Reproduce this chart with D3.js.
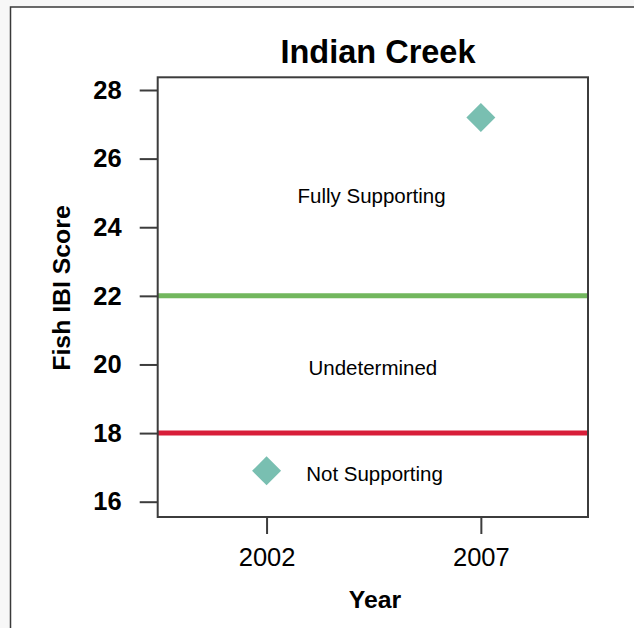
<!DOCTYPE html>
<html>
<head>
<meta charset="utf-8">
<script src="https://cdn.jsdelivr.net/npm/d3@7"></script>
<style>
  html, body { margin: 0; padding: 0; background: #f7f7f7; }
  svg { display: block; }
  text { font-family: "Liberation Sans", Arial, Helvetica, sans-serif; fill: #000; }
</style>
</head>
<body>
<div id="chart"></div>
<script>
// ---- data ----
const title = "Indian Creek";
const xLabel = "Year";
const yLabel = "Fish IBI Score";
const years = [2002, 2007];
const scores = [16.9, 27.2];
const xTicks = [2002, 2007];
const yTicks = [16, 18, 20, 22, 24, 26, 28];
const thresholds = [22, 18];
const thresholdColors = ["#72b75e", "#d81e39"];
const zoneLabels = ["Fully Supporting", "Undetermined", "Not Supporting"];
const zoneLabelY = [24.71, 19.68, 16.61];
const zoneLabelX = [2004.45, 2004.48, 2004.52];

const W = 634, H = 628;
const box = { left: 157.7, right: 588, top: 77.3, bottom: 517 };

const svg = d3.select("#chart").append("svg").attr("width", W).attr("height", H);

// outer frame
svg.append("rect").attr("x", 10.5).attr("y", 7).attr("width", 700).attr("height", 700)
  .attr("fill", "#fff").attr("stroke", "#3a3a3a").attr("stroke-width", 1.5);

const x = d3.scaleLinear().domain([1999.46, 2009.5]).range([box.left, box.right]);
const y = d3.scaleLinear().domain([15.554, 28.37]).range([box.bottom, box.top]);

// threshold lines
svg.selectAll("line.thr").data(thresholds).enter().append("line")
  .attr("class", "thr")
  .attr("x1", box.left).attr("x2", box.right)
  .attr("y1", d => y(d)).attr("y2", d => y(d))
  .attr("stroke", (d, i) => thresholdColors[i]).attr("stroke-width", 5);

// plot box
svg.append("rect").attr("x", box.left).attr("y", box.top)
  .attr("width", box.right - box.left).attr("height", box.bottom - box.top)
  .attr("fill", "none").attr("stroke", "#3c3c3c").attr("stroke-width", 2);

// y axis
const yAxis = d3.axisLeft(y).tickValues(yTicks).tickSize(18).tickPadding(18).tickFormat(d3.format("d"));
const gy = svg.append("g").attr("transform", `translate(${box.left},0)`).call(yAxis);
gy.select(".domain").remove();
gy.selectAll(".tick line").attr("stroke", "#3c3c3c").attr("stroke-width", 2);
gy.selectAll(".tick text").attr("font-size", 25.5).attr("font-weight", "bold")
  .attr("font-family", "Liberation Sans, Arial, sans-serif").attr("fill", "#000");

// x axis
const xAxis = d3.axisBottom(x).tickValues(xTicks).tickSize(17).tickPadding(14).tickFormat(d3.format("d"));
const gx = svg.append("g").attr("transform", `translate(0,${box.bottom})`).call(xAxis);
gx.select(".domain").remove();
gx.selectAll(".tick line").attr("stroke", "#3c3c3c").attr("stroke-width", 2);
gx.selectAll(".tick text").attr("font-size", 25.5)
  .attr("font-family", "Liberation Sans, Arial, sans-serif").attr("fill", "#000");

// zone labels
svg.selectAll("text.zone").data(zoneLabels).enter().append("text")
  .attr("class", "zone")
  .attr("x", (d, i) => x(zoneLabelX[i])).attr("y", (d, i) => y(zoneLabelY[i]))
  .attr("text-anchor", "middle").attr("font-size", 20.5).text(d => d);

// points (diamonds)
const diamond = d3.symbol().type(d3.symbolSquare).size(420);
svg.selectAll("path.pt").data(years).enter().append("path")
  .attr("class", "pt")
  .attr("d", diamond)
  .attr("transform", (d, i) => `translate(${x(d)},${y(scores[i])}) rotate(45)`)
  .attr("fill", "#79bfb1");

// titles
svg.append("text").attr("x", 378).attr("y", 63.3).attr("text-anchor", "middle")
  .attr("font-size", 32.5).attr("font-weight", "bold").text(title);
svg.append("text").attr("x", 375).attr("y", 608.3).attr("text-anchor", "middle")
  .attr("font-size", 24.8).attr("font-weight", "bold").text(xLabel);
svg.append("text").attr("transform", "translate(70,288) rotate(-90)").attr("text-anchor", "middle")
  .attr("font-size", 24.8).attr("font-weight", "bold").text(yLabel);
</script>
</body>
</html>
